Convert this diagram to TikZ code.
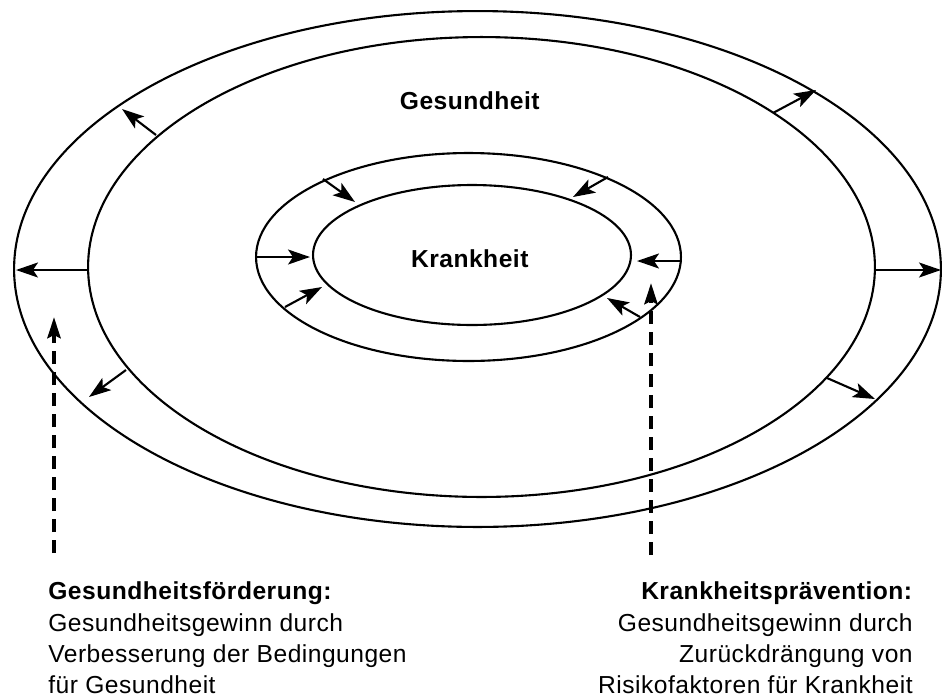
\documentclass[tikz,border=0pt]{standalone}
\usepackage{fontspec}
\setmainfont{Liberation Sans}[LetterSpace=2]
\usetikzlibrary{calc, arrows.meta}

\tikzset{
	ring/.style={line width=1.2pt},
	pfeil/.style={-{Stealth[length=0.44cm,width=0.3cm,inset=0.1cm]}, line width=1.2pt},
	strichpfeil/.style={-{Stealth[length=0.42cm,width=0.26cm,inset=0.06cm]}, line width=2.4pt, dash pattern=on 0.26cm off 0.16cm}
}

\begin{document}
\begin{tikzpicture}[x=0.02cm,y=-0.02cm,font=\fontsize{14}{17}\selectfont]
			\newcommand{\mytitle}[1]{
				\textbf{#1}
			}%Frame
			\useasboundingbox (0,0) rectangle (943,697);
			%Ellipses, from outside to inside
			\coordinate (cOuter) at (477.5,269);
			\coordinate (cHealth) at (481.5,267);
			\coordinate (cRing) at (468.5,257);
			\coordinate (cIll) at (472,255);
			\draw [ring] (cOuter) ellipse [x radius=9.27cm, y radius=5.16cm];
			\draw [ring] (cHealth) ellipse [x radius=7.87cm, y radius=4.6cm];
			\draw [ring] (cRing) ellipse [x radius=4.25cm, y radius=2.08cm];
			\draw [ring] (cIll) ellipse [x radius=3.18cm, y radius=1.4cm];
			%Arrows pointing outwards
			\coordinate (out1) at (88,270);
			\coordinate (out2) at (156,135);
			\coordinate (out3) at (773,113);
			\coordinate (out4) at (875,270);
			\coordinate (out5) at (827,378);
			\coordinate (out6) at (126,370);
			\coordinate (outTip1) at (16,270);
			\coordinate (outTip2) at (122,109);
			\coordinate (outTip3) at (816,90);
			\coordinate (outTip4) at (941,270);
			\coordinate (outTip5) at (875,399);
			\coordinate (outTip6) at (89,397);
			\draw [pfeil] (out1) -- (outTip1);
			\draw [pfeil] (out2) -- (outTip2);
			\draw [pfeil] (out3) -- (outTip3);
			\draw [pfeil] (out4) -- (outTip4);
			\draw [pfeil] (out5) -- (outTip5);
			\draw [pfeil] (out6) -- (outTip6);
			%Arrows pointing inwards
			\coordinate (in1) at (257,257);
			\coordinate (in2) at (323,179);
			\coordinate (in3) at (608,177);
			\coordinate (in4) at (680,261);
			\coordinate (in5) at (640,317);
			\coordinate (in6) at (285,307);
			\coordinate (inTip1) at (310,257);
			\coordinate (inTip2) at (355,202);
			\coordinate (inTip3) at (573,197);
			\coordinate (inTip4) at (637,261);
			\coordinate (inTip5) at (607,298);
			\coordinate (inTip6) at (322,287);
			\draw [pfeil] (in1) -- (inTip1);
			\draw [pfeil] (in2) -- (inTip2);
			\draw [pfeil] (in3) -- (inTip3);
			\draw [pfeil] (in4) -- (inTip4);
			\draw [pfeil] (in5) -- (inTip5);
			\draw [pfeil] (in6) -- (inTip6);
			%Dashed arrows
			\coordinate (foerderFuss) at (54,553);
			\coordinate (foerderSpitze) at (54,317);
			\coordinate (praevFuss) at (651,555);
			\coordinate (praevSpitze) at (651,283);
			\draw [strichpfeil] (foerderFuss) -- (foerderSpitze);
			\draw [strichpfeil] (praevFuss) -- (praevSpitze);
			%Labels in the ellipses
			\node (gesundheit) [] at (470,101) {\mytitle{Gesundheit}};
			\node (krankheit) [] at (470,259) {\mytitle{Krankheit}};
			%Text on the left
			\node (foerder1) [anchor=base west,inner sep=0] at (48,599) {\mytitle{Gesundheitsförderung:}};
			\node (foerder2) [anchor=base west,inner sep=0] at (48,631) {Gesundheitsgewinn durch};
			\node (foerder3) [anchor=base west,inner sep=0] at (48,662) {Verbesserung der Bedingungen};
			\node (foerder4) [anchor=base west,inner sep=0] at (48,693) {für Gesundheit};
			%Text on the right
			\node (praev1) [anchor=base east,inner sep=0] at (913,599) {\mytitle{Krankheitsprävention:}};
			\node (praev2) [anchor=base east,inner sep=0] at (913,631) {Gesundheitsgewinn durch};
			\node (praev3) [anchor=base east,inner sep=0] at (913,662) {Zurückdrängung von};
			\node (praev4) [anchor=base east,inner sep=0] at (913,693) {Risikofaktoren für Krankheit};
\end{tikzpicture}
\end{document}
